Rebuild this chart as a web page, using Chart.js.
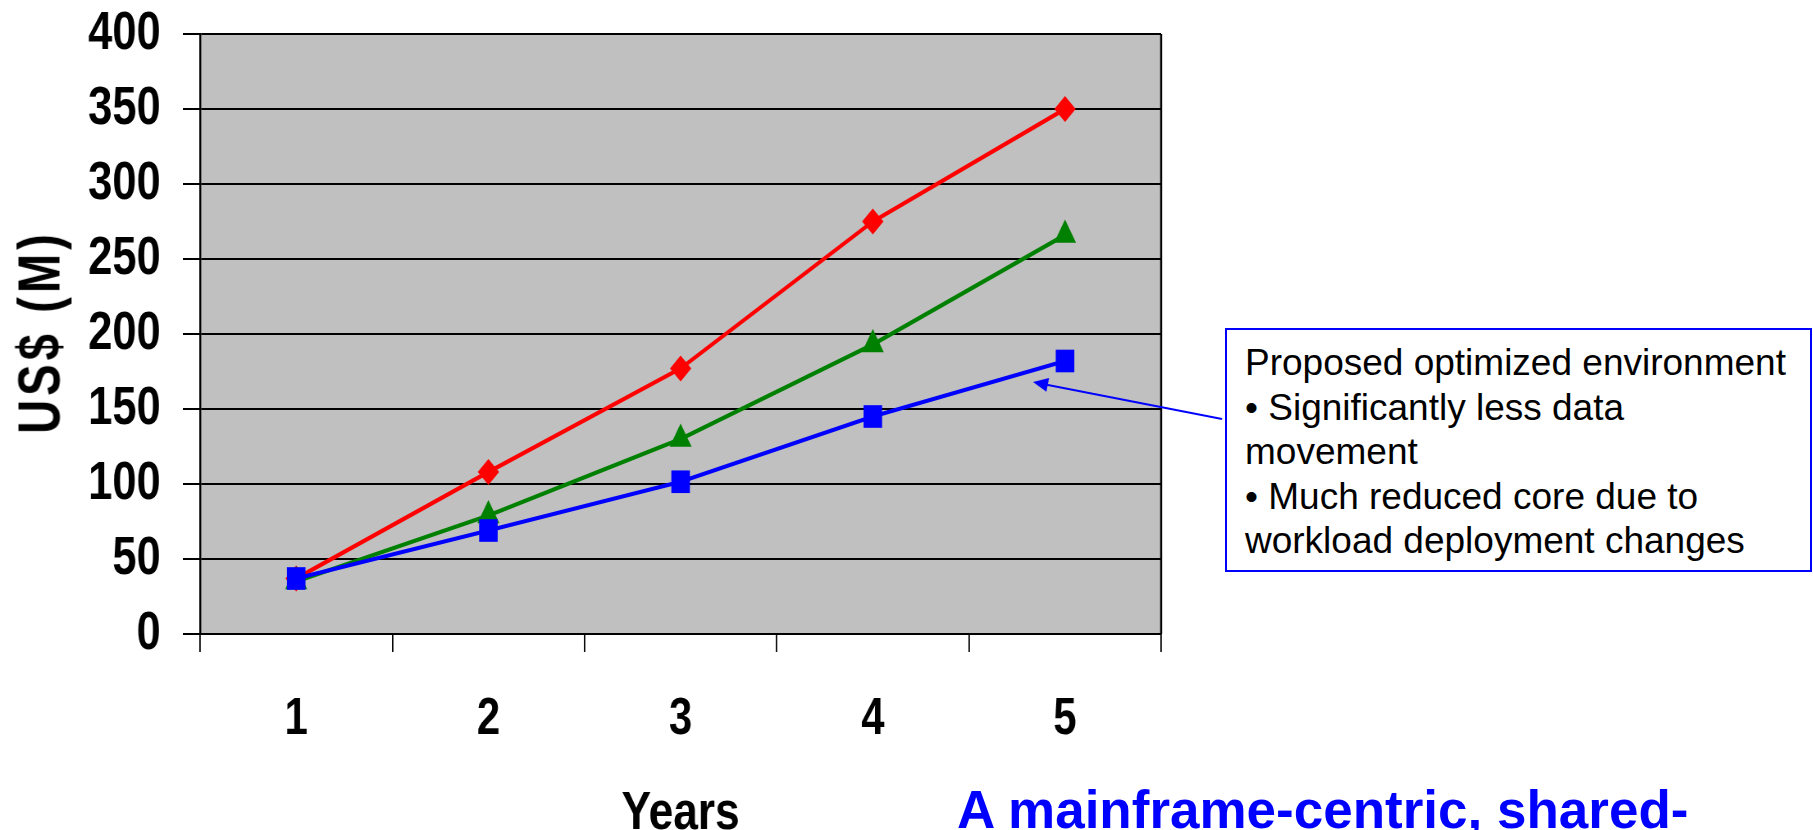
<!DOCTYPE html>
<html>
<head>
<meta charset="utf-8">
<script src="https://cdn.jsdelivr.net/npm/chart.js@4.4.1/dist/chart.umd.min.js"></script>
<style>
  html, body { margin: 0; padding: 0; background: #fff; overflow: hidden; }
  #wrap { position: relative; width: 1813px; height: 830px; overflow: hidden; }
  /* the original slide uses a narrow bold face; squeeze the chart horizontally to get it */
  #stage { position: absolute; left: 0; top: 0; width: 2211px; height: 830px; transform: scaleX(0.82); transform-origin: 0 0; }
  #yTitle {
    position: absolute; left: 40px; top: 332px; white-space: nowrap;
    font-family: 'Liberation Sans', Arial, sans-serif; font-weight: bold; font-size: 59px;
    line-height: 59px; letter-spacing: 5px; color: #000;
    transform: translate(-50%, -50%) rotate(-90deg) scaleX(0.8);
  }
  #note {
    position: absolute; left: 1225px; top: 328px; width: 587px; height: 244px;
    border: 2px solid #0000ff; background: #fff;
    font-family: 'Liberation Sans', Arial, sans-serif; font-size: 37px; line-height: 44.6px;
    color: #000; padding: 11px 0 0 18px; box-sizing: border-box; white-space: nowrap;
  }
  #headline {
    position: absolute; left: 957px; top: 783px; white-space: nowrap;
    font-family: 'Liberation Sans', Arial, sans-serif; font-weight: bold; font-size: 53px;
    line-height: 53px; color: #0000ff;
  }
</style>
</head>
<body>
<div id="wrap">
  <div id="stage"><canvas id="costChart" width="2211" height="830"></canvas></div>
  <div id="yTitle">US$ (M)</div>
  <div id="note">Proposed optimized environment<br>• Significantly less data<br>movement<br>• Much reduced core due to<br>workload deployment changes</div>
  <div id="headline">A mainframe-centric, shared-</div>
</div>
<script>
// values (US$ millions per year)
const years = ['1', '2', '3', '4', '5'];
const currentEnv = [37, 108, 177, 275, 350];     // red diamonds
const interimEnv = [35, 79, 130, 193, 266];      // green triangles
const optimizedEnv = [37, 69, 101.5, 145, 182];  // blue squares
const yTicks = [0, 50, 100, 150, 200, 250, 300, 350, 400];

const squeeze = 0.82;  // must match #stage scaleX
const font = "'Liberation Sans', Arial, sans-serif";

// grey plot background + right border
const plotFrame = {
    id: 'plotFrame',
    beforeDraw(chart) {
        const { ctx, chartArea: a } = chart;
        ctx.save();
        ctx.fillStyle = '#c0c0c0';
        ctx.fillRect(a.left, a.top, a.right - a.left, a.bottom - a.top);
        ctx.restore();
    },
    beforeDatasetsDraw(chart) {
        const { ctx, chartArea: a } = chart;
        ctx.save();
        ctx.strokeStyle = '#000';
        ctx.lineWidth = 2.4;
        ctx.beginPath();
        ctx.moveTo(a.right, a.top);
        ctx.lineTo(a.right, a.bottom);
        ctx.stroke();
        ctx.restore();
    }
};

// callout arrow pointing at the last blue point (worked out in screen pixels)
const calloutArrow = {
    id: 'calloutArrow',
    afterDatasetsDraw(chart) {
        const pt = chart.getDatasetMeta(0).data[4];
        const tipX = pt.x * squeeze - 32, tipY = pt.y + 21;
        const fromX = 1222, fromY = 419;
        const ang = Math.atan2(fromY - tipY, fromX - tipX);
        const c = Math.cos(ang), s = Math.sin(ang);
        const X = v => v / squeeze;
        const ctx = chart.ctx;
        ctx.save();
        ctx.strokeStyle = '#0000ff';
        ctx.fillStyle = '#0000ff';
        ctx.lineWidth = 2;
        ctx.beginPath();
        ctx.moveTo(X(fromX), fromY);
        ctx.lineTo(X(tipX + c * 10), tipY + s * 10);
        ctx.stroke();
        ctx.beginPath();
        ctx.moveTo(X(tipX), tipY);
        ctx.lineTo(X(tipX + c * 15 - s * 7), tipY + s * 15 + c * 7);
        ctx.lineTo(X(tipX + c * 15 + s * 7), tipY + s * 15 - c * 7);
        ctx.closePath();
        ctx.fill();
        ctx.restore();
    }
};

const ctx = document.getElementById('costChart').getContext('2d');
new Chart(ctx, {
    type: 'line',
    data: {
        labels: years,
        datasets: [
            {
                label: 'Optimized',
                data: optimizedEnv,
                borderColor: '#0000ff',
                backgroundColor: '#0000ff',
                borderWidth: 4.2,
                pointStyle: 'rect',
                pointRadius: 16,
                pointBorderWidth: 0,
                tension: 0
            },
            {
                label: 'Interim',
                data: interimEnv,
                borderColor: '#008000',
                backgroundColor: '#008000',
                borderWidth: 4.2,
                pointStyle: 'triangle',
                pointRadius: 15.5,
                pointBorderWidth: 0,
                tension: 0
            },
            {
                label: 'Current',
                data: currentEnv,
                borderColor: '#ff0000',
                backgroundColor: '#ff0000',
                borderWidth: 4.2,
                pointStyle: 'rectRot',
                pointRadius: 13,
                pointBorderWidth: 0,
                tension: 0
            }
        ]
    },
    options: {
        responsive: false,
        devicePixelRatio: 1,
        animation: false,
        layout: { padding: { top: 34, right: 795, bottom: 0, left: 0 } },
        plugins: { legend: { display: false }, tooltip: { enabled: false } },
        scales: {
            x: {
                offset: true,
                afterFit(scale) { scale.height = 196; },
                grid: {
                    offset: true,
                    drawOnChartArea: false,
                    color: '#000',
                    lineWidth: 1.8,
                    tickLength: 18
                },
                border: { display: true, color: '#000', width: 2 },
                ticks: {
                    color: '#000',
                    padding: 37,
                    font: { family: font, weight: 'bold', size: 51 }
                },
                title: {
                    display: true,
                    text: 'Years',
                    color: '#000',
                    padding: { top: 0, bottom: 0 },
                    font: { family: font, weight: 'bold', size: 54, lineHeight: 0.6 }
                }
            },
            y: {
                min: 0,
                max: 400,
                afterFit(scale) { scale.width = 244; },
                afterBuildTicks(scale) { scale.ticks = yTicks.map(v => ({ value: v })); },
                grid: { color: '#000', lineWidth: 2, tickLength: 21 },
                border: { display: true, color: '#000', width: 2.4 },
                ticks: {
                    color: '#000',
                    padding: 27,
                    font: { family: font, weight: 'bold', size: 53, lineHeight: 0.2 }
                }
            }
        }
    },
    plugins: [plotFrame, calloutArrow]
});
</script>
</body>
</html>
